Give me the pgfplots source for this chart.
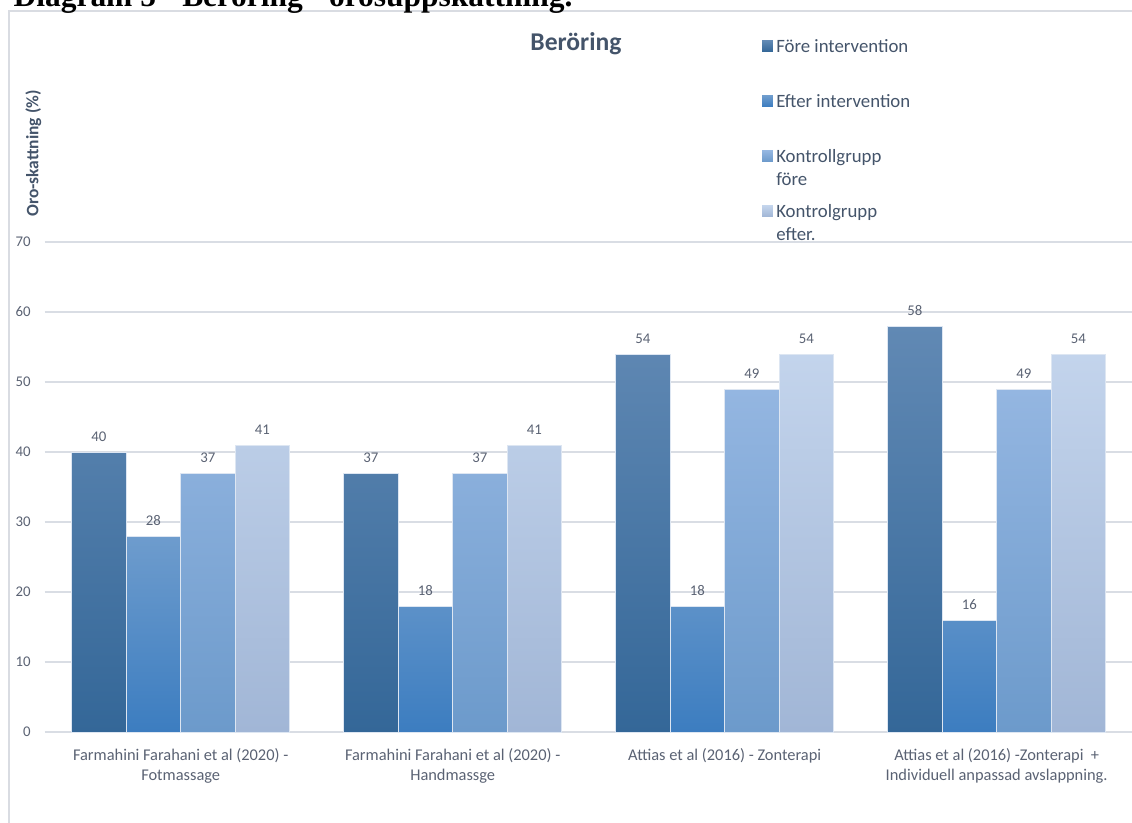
\documentclass[border=0pt]{standalone}
\usepackage{fontspec}
\setmainfont{Carlito}
\newfontfamily\serifhead{Liberation Serif}
\usepackage{pgfplots}
\pgfplotsset{compat=1.18}
\definecolor{txt}{HTML}{5A6273}
\definecolor{ttl}{HTML}{44546A}
\definecolor{gridc}{HTML}{D9DDE4}
\definecolor{framec}{HTML}{D9DCE2}
\definecolor{aT}{HTML}{6189B4}\definecolor{aB}{HTML}{346798}
\definecolor{bT}{HTML}{6E9CCD}\definecolor{bB}{HTML}{3C7DC0}
\definecolor{cT}{HTML}{94B6E1}\definecolor{cB}{HTML}{6C9ACB}
\definecolor{dT}{HTML}{C3D4EC}\definecolor{dB}{HTML}{A1B6D6}
\definecolor{edge}{HTML}{DDE6F2}
\begin{document}
\begin{tikzpicture}
\draw[framec, line width=0.9pt] (6.75pt,-620pt) -- (6.75pt,-8.25pt) -- (852pt,-8.25pt);
\node[anchor=base west, inner sep=0pt, font=\serifhead\bfseries\fontsize{23.6pt}{28pt}\selectfont] at (10pt,-4.8pt) {Diagram 5 - Beröring - orosuppskattning.};
\begin{axis}[
  at={(33.525pt,-549pt)}, anchor=south west,
  scale only axis, width=816pt, height=367.5pt,
  xmin=-0.5, xmax=3.5, ymin=0, ymax=70,
  ybar=0pt, bar width=40.875pt,
  xtick={0,1,2,3},
  xticklabels={{Farmahini Farahani et al (2020) -\\Fotmassage},{Farmahini Farahani et al (2020) -\\Handmassge},{Attias et al (2016) - Zonterapi},{Attias et al (2016) -Zonterapi\ \ +\\Individuell anpassad avslappning.}},
  ytick={0,10,...,70},
  ymajorgrids, grid style={gridc, line width=1pt},
  axis line style={draw=none},
  major tick length=0pt, tick style={draw=none},
  /pgf/number format/assume math mode=true,
  ticklabel style={text=txt},
  yticklabel style={font=\fontsize{11.1pt}{13pt}\selectfont, inner sep=0pt, xshift=-10.3pt},
  xticklabel style={font=\fontsize{12.3pt}{15pt}\selectfont, align=center, inner sep=0pt, anchor=north, yshift=-12pt},
  nodes near coords,
  every node near coord/.append style={font=\fontsize{11.1pt}{13pt}\selectfont, text=txt, inner sep=0pt, yshift=7.4pt},
  title={Beröring},
  title style={font=\bfseries\fontsize{19.2pt}{22pt}\selectfont, text=ttl, at={(axis description cs:0.4883,1.3749)}, anchor=base, inner sep=0pt},
  ylabel={Oro-skattning (\%)},
  ylabel style={font=\bfseries\fontsize{13.1pt}{15pt}\selectfont, text=ttl, at={(axis description cs:-0.0103,1.1806)}, anchor=center, inner sep=0pt},
  legend style={at={(axis description cs:0.6593,1.4122)}, anchor=north west, draw=none, fill=none, inner sep=0pt, outer sep=0pt, row sep=32.15pt, column sep=2.5pt, font=\fontsize{14.1pt}{17.25pt}\selectfont, text=ttl, nodes={inner sep=0pt, text height=9.1pt, text depth=0pt}},
  legend cell align=left,
  every axis plot post/.append style={legend image code/.code={\fill[##1, draw=none] (0pt,-4.1pt) rectangle (8.2pt,4.1pt);}},
  clip=false,
]
\addplot[draw=edge, line width=0.5pt, top color=aT, bottom color=aB] coordinates {(0,40) (1,37) (2,54) (3,58)};
\addlegendentry{Före intervention}
\addplot[draw=edge, line width=0.5pt, top color=bT, bottom color=bB] coordinates {(0,28) (1,18) (2,18) (3,16)};
\addlegendentry{Efter intervention}
\addplot[draw=edge, line width=0.5pt, top color=cT, bottom color=cB] coordinates {(0,37) (1,37) (2,49) (3,49)};
\addlegendentry{\vtop{\hbox{Kontrollgrupp}\hbox{före}}}
\addplot[draw=edge, line width=0.5pt, top color=dT, bottom color=dB] coordinates {(0,41) (1,41) (2,54) (3,54)};
\addlegendentry{\vtop{\hbox{Kontrolgrupp}\hbox{efter.}}}
\end{axis}
\pgfresetboundingbox
\useasboundingbox (0pt,0pt) rectangle (849pt,-616.5pt);
\end{tikzpicture}
\end{document}
